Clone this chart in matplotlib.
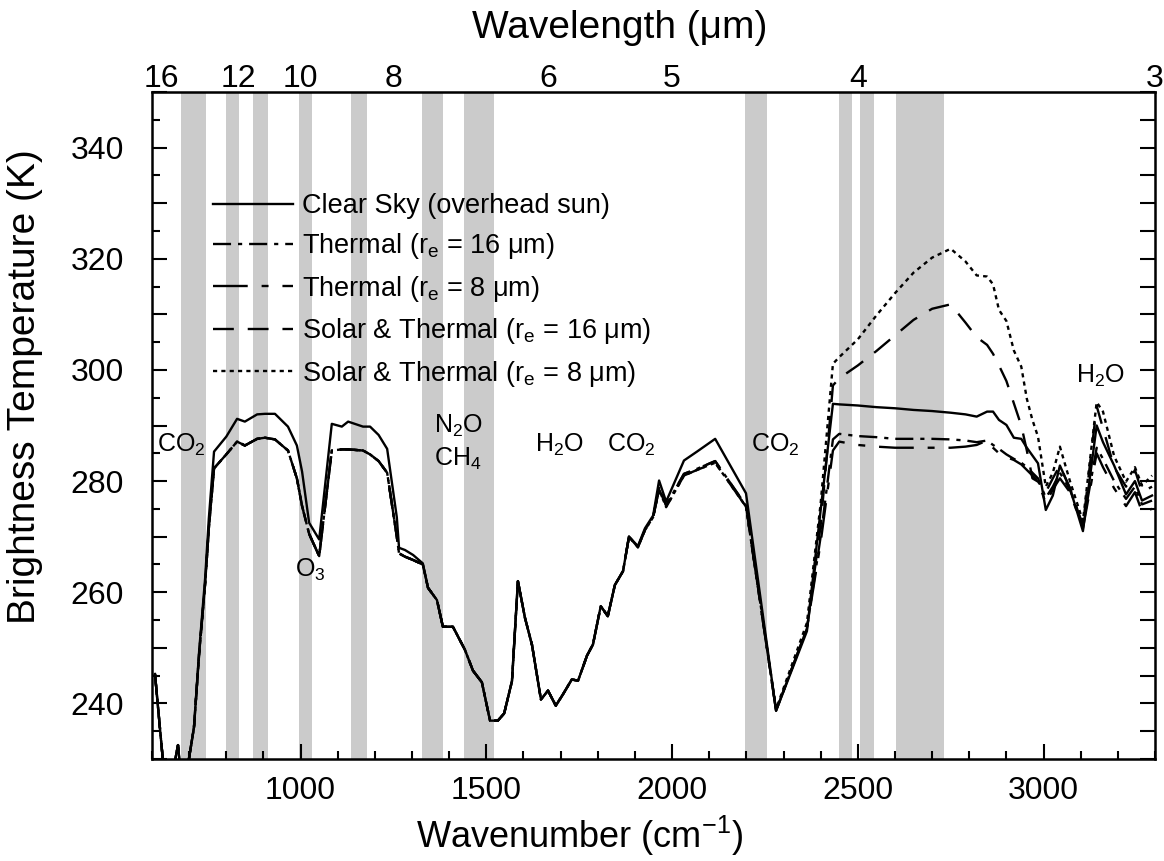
import numpy as np
import matplotlib.pyplot as plt
from matplotlib.ticker import MultipleLocator, FuncFormatter

plt.rcParams['font.family'] = ['Liberation Sans', 'DejaVu Sans']
plt.rcParams['mathtext.default'] = 'regular'
plt.rcParams['lines.scale_dashes'] = False

# =========================
# DATA
# =========================
wn = [608, 640, 670, 685, 697, 713, 727, 743, 753, 767, 800, 829, 850, 883, 904,
      931, 966, 990, 1004, 1023, 1050, 1084, 1111, 1128, 1168, 1187, 1210, 1233,
      1259, 1265, 1281, 1303, 1329, 1343, 1367, 1383, 1410, 1442, 1464, 1488,
      1510, 1531, 1548, 1569, 1585, 1604, 1623, 1647, 1666, 1687, 1706, 1730,
      1747, 1771, 1787, 1808, 1827, 1846, 1868, 1884, 1908, 1927, 1949, 1965,
      1984, 2032, 2067, 2116, 2199, 2280, 2363, 2400, 2433, 2450, 2500, 2550,
      2600, 2650, 2700, 2750, 2790, 2820, 2848, 2864, 2880, 2900, 2920, 2940,
      2955, 2970, 2985, 3006, 3025, 3044, 3071, 3106, 3143, 3160, 3190, 3222,
      3246, 3265, 3292]

clear_sky = [245.3, 222.0, 232.5, 222.0, 229.0, 235.7, 249.5, 262.5, 273.3, 285.3,
             288.0, 291.2, 290.7, 292.0, 292.1, 292.1, 289.8, 286.4, 281.7, 272.5,
             269.5, 290.3, 289.8, 290.7, 289.8, 289.8, 288.3, 285.8, 273.5, 268.0,
             267.6, 266.7, 265.2, 260.8, 258.6, 253.8, 253.8, 249.7, 245.9, 243.8,
             236.9, 236.9, 238.2, 244.0, 262.0, 255.4, 250.5, 240.7, 242.3, 239.6,
             241.6, 244.3, 244.1, 248.6, 250.6, 257.5, 255.7, 261.3, 263.8, 270.0,
             268.3, 271.5, 273.8, 280.1, 276.3, 283.7, 285.3, 287.6, 277.8, 238.7,
             253.0, 274.8, 293.9, 293.8, 293.6, 293.3, 293.1, 292.8, 292.6, 292.3,
             292.0, 291.6, 292.5, 292.5, 291.0, 290.1, 287.8, 287.6, 286.0, 284.6,
             283.2, 274.8, 277.4, 282.8, 278.7, 271.0, 290.0, 287.0, 282.8, 277.6,
             280.0, 276.5, 277.4]

thermal_16 = [245.3, 222.0, 232.5, 222.0, 229.0, 235.7, 249.0, 261.5, 271.5, 282.3,
              284.8, 287.1, 286.4, 287.6, 287.8, 287.5, 285.5, 280.5, 275.5, 270.5,
              266.5, 285.5, 285.7, 285.7, 285.5, 284.8, 283.6, 281.5, 270.0, 267.0,
              266.4, 265.8, 265.0, 260.8, 258.6, 253.8, 253.8, 249.7, 245.9, 243.8,
              236.9, 236.9, 238.2, 244.0, 262.0, 255.4, 250.5, 240.7, 242.3, 239.6,
              241.6, 244.3, 244.1, 248.6, 250.6, 257.5, 255.7, 261.3, 263.8, 270.0,
              268.1, 271.2, 273.5, 278.8, 275.6, 281.3, 282.2, 283.6, 275.6, 238.7,
              253.5, 270.0, 287.5, 288.5, 288.1, 287.9, 287.6, 287.6, 287.6, 287.5,
              287.3, 287.0, 287.3, 286.5, 285.8, 284.8, 284.0, 283.3, 282.5, 281.5,
              280.5, 277.0, 279.0, 281.5, 278.5, 272.0, 286.0, 284.0, 280.0, 276.8,
              279.0, 275.8, 276.5]

# thermal 8 um differs from 16 um only from 1965 cm-1 on
thermal_8_tail = [278.5, 275.3, 281.0, 282.0, 283.3, 275.4, 238.7,
                  253.5, 269.0, 285.5, 287.1, 286.5, 286.2, 286.0, 286.0, 286.0, 286.0,
                  286.2, 286.5, 287.3, 286.0, 285.0, 284.3, 283.8, 283.0, 282.0, 281.0,
                  280.0, 276.0, 278.5, 280.5, 278.0, 271.5, 285.0, 282.5, 278.7, 275.5,
                  278.0, 274.5, 275.0]

# solar part only matters from 2280 cm-1 on
solar_16_tail = [238.7, 253.5, 272.0, 297.2, 298.5, 300.8, 303.4, 306.2, 309.0, 311.0,
                 311.8, 308.5, 305.9, 304.5, 302.9, 300.8, 298.0, 294.0, 290.0, 285.5,
                 280.5, 279.9, 278.0, 280.5, 282.8, 278.7, 272.0, 293.5, 289.5, 282.5,
                 279.0, 282.0, 278.0, 279.0]
solar_8_tail = [239.0, 254.5, 276.0, 301.1, 302.3, 305.5, 309.8, 313.8, 317.5, 320.2,
                321.8, 319.5, 317.0, 316.8, 315.4, 310.8, 308.8, 303.5, 300.6, 294.8,
                291.0, 288.0, 279.0, 281.5, 286.2, 280.0, 272.8, 294.2, 292.5, 284.5,
                279.9, 282.5, 279.2, 281.0]

i_t8 = wn.index(1965)
i_sol = wn.index(2280)
thermal_8 = thermal_16[:i_t8] + thermal_8_tail
solar_16 = thermal_16[:i_sol] + solar_16_tail
solar_8 = thermal_8[:i_sol] + solar_8_tail

# absorption bands (grey)
band_lo = [678, 800, 873, 997, 1135, 1327, 1441, 2197, 2450, 2507, 2604]
band_hi = [745, 835, 913, 1030, 1178, 1384, 1520, 2256, 2485, 2543, 2732]

# gas labels
gas_text = ['CO$_2$', 'O$_3$', 'N$_2$O', 'CH$_4$', 'H$_2$O', 'CO$_2$', 'CO$_2$', 'H$_2$O']
gas_x = [613, 984, 1359, 1359, 1630, 1824, 2213, 3086]
gas_y = [285.3, 262.7, 288.7, 282.8, 285.3, 285.3, 285.3, 297.7]

top_um = [16, 12, 10, 8, 6, 5, 4, 3]

XMIN, XMAX = 600, 3300
YMIN, YMAX = 230, 350

# =========================
# PLOT
# =========================
fig = plt.figure(figsize=(11.64, 8.61), dpi=100)
ax = fig.add_axes([152 / 1164, 1 - 759 / 861, 1003 / 1164, 667 / 861])

for lo, hi in zip(band_lo, band_hi):
    ax.axvspan(lo, hi, color='#cbcbcb', lw=0, zorder=0)

lw = 1.7
ax.plot(wn, clear_sky, color='black', lw=lw, ls='-', label='Clear Sky (overhead sun)')
ax.plot(wn, thermal_16, color='black', lw=lw, ls=(0, (13, 5, 3, 5)),
        label='Thermal (r$_e$ = 16 μm)')
ax.plot(wn, thermal_8, color='black', lw=lw, ls=(0, (25, 10, 5, 10)),
        label='Thermal (r$_e$ = 8 μm)')
ax.plot(wn, solar_16, color='black', lw=lw, ls=(0, (15, 10)),
        label='Solar & Thermal (r$_e$ = 16 μm)')
ax.plot(wn, solar_8, color='black', lw=lw, ls=(0, (3, 3)),
        label='Solar & Thermal (r$_e$ = 8 μm)')

for t, x, y in zip(gas_text, gas_x, gas_y):
    ax.text(x, y, t, fontsize=18, ha='left', va='baseline')

ax.set_xlim(XMIN, XMAX)
ax.set_ylim(YMIN, YMAX)

ax.xaxis.set_major_locator(MultipleLocator(500))
ax.xaxis.set_minor_locator(MultipleLocator(100))
ax.yaxis.set_major_locator(MultipleLocator(10))
ax.yaxis.set_minor_locator(MultipleLocator(5))
ax.yaxis.set_major_formatter(FuncFormatter(lambda v, p: f'{v:.0f}' if v % 20 == 0 else ''))

ax.tick_params(which='both', direction='in', width=1.5, labelsize=23)
ax.tick_params(which='major', length=11)
ax.tick_params(which='minor', length=5.5)
ax.tick_params(axis='x', pad=12)
ax.tick_params(axis='y', pad=20)
for s in ax.spines.values():
    s.set_linewidth(1.8)

# axis titles (placed like the original, a bit off centre)
fig.text(580 / 1164, 1 - 836 / 861, 'Wavenumber (cm$^{-1}$)', fontsize=26,
         ha='center', va='center')
fig.text(25 / 1164, 1 - 387 / 861, 'Brightness Temperature (K)', fontsize=28,
         ha='center', va='center', rotation=90)
fig.text(620 / 1164, 1 - 28 / 861, 'Wavelength (μm)', fontsize=28,
         ha='center', va='center')

# right axis: ticks only
rax = ax.secondary_yaxis('right')
rax.yaxis.set_major_locator(MultipleLocator(5))
rax.tick_params(direction='in', length=11, width=1.5, labelright=False)

# top axis: wavelength
tax = ax.secondary_xaxis('top')
tax.set_xticks([min(1e4 / l, XMAX) for l in top_um])
tax.set_xticklabels([str(l) for l in top_um])
tax.tick_params(length=0, labelsize=23, pad=-1.5)

ax.legend(loc='upper left', bbox_to_anchor=(61 / 1003, 1 - 101 / 667), frameon=False,
          fontsize=19.5, handlelength=2.95, handletextpad=0.33, labelspacing=0.46,
          borderpad=0, borderaxespad=0)

fig.savefig('out.png', dpi=100)
